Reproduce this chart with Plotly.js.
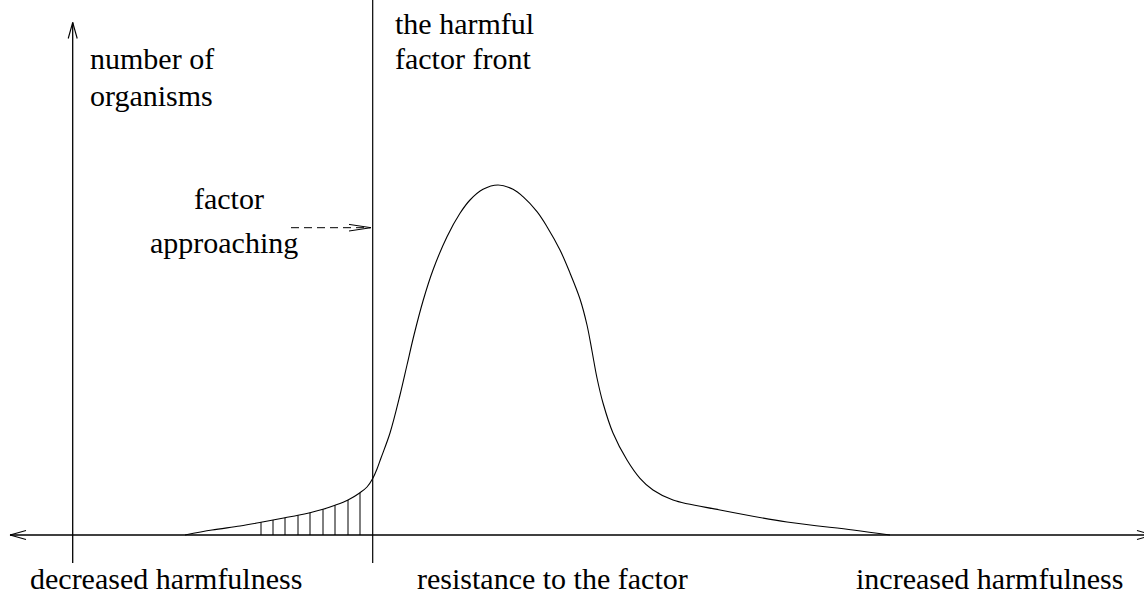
<!DOCTYPE html>
<html>
<head>
<meta charset="utf-8">
<script src="https://cdn.plot.ly/plotly-3.0.1.min.js"></script>
<style>
  html, body { margin: 0; padding: 0; background: #ffffff; }
  #chart { width: 1144px; height: 597px; }
</style>
</head>
<body>
<div id="chart"></div>
<script>
// ---- data (x: resistance to the factor, y: number of organisms) ----
const curveX = [185, 212, 240, 261, 273, 285, 298, 310, 323, 335, 348, 360, 367, 373, 377,
                381, 390, 400, 407, 414, 423, 433, 447, 460, 470, 483, 498, 513, 523, 537, 547,
                560, 570, 580, 587, 592, 597, 603, 613, 627, 640, 653, 673, 720, 787, 853, 890];
const curveY = [0, 5, 9, 12.7, 15, 17.3, 19.7, 22.3, 25.7, 29.7, 35, 42.3, 48, 57, 66,
                77, 102, 140, 170, 200, 234, 265, 298.3, 321.7, 335, 345.7, 350, 345.7, 338.3, 323.3, 308.3,
                285, 262, 236, 210, 184, 157, 132, 102, 75, 56.7, 45, 35, 25, 13, 5, 0];

// hatched tail left of the harmful factor front
const hatchX   = [261, 273, 285, 298, 310, 323, 335, 348, 360];
const hatchTop = [12.7, 15, 17.3, 19.7, 22.3, 25.7, 29.7, 35, 42.3];

// position of the harmful factor front
const frontX = 372.7;
const yAxisX = 72.7;

// text labels
const topLeftLabel   = ["number of", "organisms"];
const frontLabel     = ["the harmful", "factor front"];
const approachLabel  = ["factor", "approaching"];
const bottomLabels   = ["decreased harmfulness", "resistance to the factor", "increased harmfulness"];

// ---- build traces ----
const hx = [], hy = [];
hatchX.forEach((x, i) => { hx.push(x, x, null); hy.push(0, hatchTop[i], null); });

const traces = [
  { x: curveX, y: curveY, mode: 'lines', type: 'scatter',
    line: { color: '#000', width: 1.1, shape: 'spline', smoothing: 1 }, hoverinfo: 'skip' },
  { x: hx, y: hy, mode: 'lines', type: 'scatter',
    line: { color: '#000', width: 1 }, hoverinfo: 'skip' }
];

const K = '#000';
function seg(x0, y0, x1, y1, w, dash) {
  return { type: 'line', xref: 'x', yref: 'y', x0, y0, x1, y1,
           line: { color: K, width: w || 1.2, dash: dash || 'solid' }, layer: 'above' };
}
const shapes = [
  // horizontal axis with open arrowheads at both ends
  seg(10, 0, 1153, 0, 1.3),
  seg(10, 0, 26, 4.5, 1.1), seg(10, 0, 26, -4.5, 1.1),
  seg(1153, 0, 1137, 4.5, 1.1), seg(1153, 0, 1137, -4.5, 1.1),
  // vertical axis with arrowhead
  seg(yAxisX, -28, yAxisX, 512.5, 1.3),
  seg(yAxisX, 512.5, yAxisX - 4.5, 496.5, 1.1), seg(yAxisX, 512.5, yAxisX + 4.5, 496.5, 1.1),
  // harmful factor front
  seg(frontX, -28, frontX, 540, 1.2),
  // dashed "factor approaching" arrow
  seg(291, 307.3, 370, 307.3, 1, '8px,5px'),
  seg(371, 307.3, 349, 310.6, 1), seg(371, 307.3, 349, 304, 1)
];

const F = { family: 'Liberation Serif, Times New Roman, serif', size: 30, color: '#000' };
function ann(text, x, y, xanchor) {
  return { text, x, y, xref: 'x', yref: 'y', xanchor, yanchor: 'middle',
           showarrow: false, font: F, borderpad: 0 };
}
const annotations = [
  ann(topLeftLabel[0], 89, 477, 'left'),
  ann(topLeftLabel[1], 89, 440, 'left'),
  ann(frontLabel[0], 394, 512, 'left'),
  ann(frontLabel[1], 394, 477, 'left'),
  ann(approachLabel[0], 229, 337, 'center'),
  ann(approachLabel[1], 299, 293, 'right'),
  ann(bottomLabels[0], 29, -43, 'left'),
  ann(bottomLabels[1], 416, -43, 'left'),
  ann(bottomLabels[2], 1124, -43, 'right')
];

const layout = {
  width: 1144, height: 597,
  margin: { l: 0, r: 0, t: 0, b: 0, pad: 0 },
  paper_bgcolor: '#fff', plot_bgcolor: '#fff',
  showlegend: false,
  font: { family: 'Liberation Serif, serif' },
  xaxis: { range: [0, 1144], visible: false, fixedrange: true },
  yaxis: { range: [-62, 535], visible: false, fixedrange: true },
  shapes, annotations
};

Plotly.newPlot('chart', traces, layout, { staticPlot: true, displayModeBar: false });
</script>
</body>
</html>
